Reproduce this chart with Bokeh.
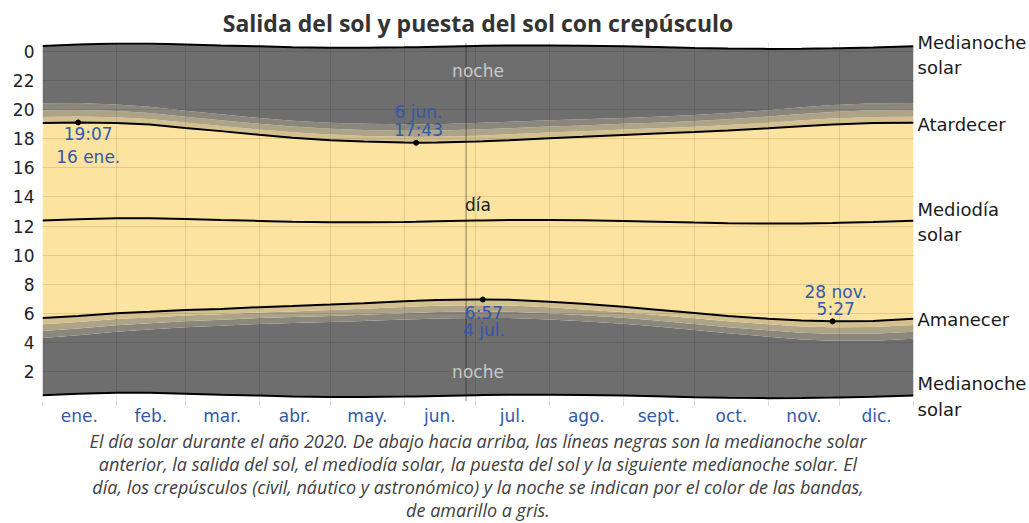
import numpy as np
from bokeh.plotting import figure
from bokeh.models import Range1d, FixedTicker, Label, Span, LinearAxis, Title
from bokeh.embed import file_html
from bokeh.resources import INLINE

# ---- data (2020) ----
days = [0, 15, 31, 45, 60, 75, 91, 105, 121, 135, 152, 157, 166, 182, 185, 196,
        213, 227, 244, 258, 274, 288, 305, 319, 332, 335, 349, 366]
sunrise = [5.67, 5.82, 6.00, 6.10, 6.22, 6.30, 6.42, 6.50, 6.60, 6.70, 6.83, 6.86, 6.92, 6.95,
           6.95, 6.93, 6.80, 6.65, 6.45, 6.25, 6.02, 5.82, 5.63, 5.50, 5.45, 5.45, 5.48, 5.62]
sunset = [19.07, 19.117, 19.08, 18.97, 18.74, 18.52, 18.27, 18.07, 17.90, 17.80, 17.73, 17.717,
          17.73, 17.80, 17.82, 17.90, 18.03, 18.13, 18.26, 18.35, 18.46, 18.57, 18.72, 18.86,
          18.98, 19.00, 19.07, 19.09]
noon = [12.37, 12.47, 12.54, 12.54, 12.48, 12.41, 12.35, 12.29, 12.25, 12.25, 12.28, 12.29,
        12.32, 12.37, 12.38, 12.41, 12.41, 12.39, 12.35, 12.30, 12.24, 12.19, 12.17, 12.18,
        12.21, 12.22, 12.27, 12.36]
midnight = [0.37, 0.47, 0.54, 0.54, 0.48, 0.41, 0.35, 0.29, 0.25, 0.25, 0.28, 0.29,
            0.32, 0.37, 0.38, 0.41, 0.41, 0.39, 0.35, 0.30, 0.24, 0.19, 0.17, 0.18,
            0.21, 0.22, 0.27, 0.36]
civil = [0.42, 0.41, 0.39, 0.38, 0.37, 0.36, 0.36, 0.37, 0.38, 0.39, 0.40, 0.40, 0.40, 0.40,
         0.40, 0.40, 0.39, 0.38, 0.37, 0.36, 0.36, 0.37, 0.38, 0.40, 0.41, 0.41, 0.42, 0.42]
nautical = [0.46, 0.45, 0.43, 0.41, 0.40, 0.39, 0.39, 0.39, 0.40, 0.41, 0.42, 0.42, 0.43, 0.43,
            0.43, 0.42, 0.41, 0.40, 0.39, 0.39, 0.39, 0.40, 0.42, 0.44, 0.45, 0.45, 0.46, 0.46]
astro = [0.48, 0.47, 0.45, 0.43, 0.41, 0.41, 0.40, 0.41, 0.42, 0.43, 0.44, 0.44, 0.44, 0.44,
         0.44, 0.44, 0.43, 0.42, 0.41, 0.40, 0.41, 0.42, 0.44, 0.46, 0.47, 0.47, 0.48, 0.48]

month_names = ["ene.", "feb.", "mar.", "abr.", "may.", "jun.", "jul.", "ago.", "sept.",
               "oct.", "nov.", "dic."]
month_starts = [0, 31, 60, 91, 121, 152, 182, 213, 244, 274, 305, 335, 366]
hour_ticks = [2, 4, 6, 8, 10, 12, 14, 16, 18, 20, 22, 24]
hour_labels = ["2", "4", "6", "8", "10", "12", "14", "16", "18", "20", "22", "0"]

right_ticks = [23.75, 18.98, 12.28, 5.57, 0.28]
right_labels = ["Medianoche\nsolar", "Atardecer", "Mediodía\nsolar", "Amanecer", "Medianoche\nsolar"]

ext_days = [15, 157, 185, 332]
ext_hours = [19.117, 17.717, 6.95, 5.45]
ext_line1 = ["19:07", "6 jun.", "6:57", "28 nov."]
ext_line2 = ["16 ene.", "17:43", "4 jul.", "5:27"]
today = 178

title_text = "Salida del sol y puesta del sol con crepúsculo"
caption = [
    "El día solar durante el año 2020. De abajo hacia arriba, las líneas negras son la medianoche solar",
    "anterior, la salida del sol, el mediodía solar, la puesta del sol y la siguiente medianoche solar. El",
    "día, los crepúsculos (civil, náutico y astronómico) y la noche se indican por el color de las bandas,",
    "de amarillo a gris.",
]

# ---- derived arrays ----
d = np.array(days, float)
sr = np.array(sunrise); ss = np.array(sunset)
c = np.array(civil); n = np.array(nautical); a = np.array(astro)
m0 = np.array(midnight); m1 = m0 + 24

DAY = "#FCE3A0"; CIV = "#D3C08E"; NAU = "#ADA386"; AST = "#8C877D"; NIGHT = "#6E6E6E"
FONT = "DejaVu Sans"
BLUE = "#3358A8"

p = figure(width=1029, height=523, output_backend="svg", toolbar_location=None,
           x_range=Range1d(0, 366), y_range=Range1d(-0.06, 24.61),
           min_border_left=42, min_border_right=109, min_border_top=42, min_border_bottom=122)
p.outline_line_color = None
p.background_fill_color = "white"
p.border_fill_color = "white"

p.title.text = title_text
p.title.align = "center"
p.title.text_font = "Open Sans"
p.title.text_font_style = "bold"
p.title.text_font_size = "23px"
p.title.text_color = "#333333"
p.title.standoff = 8

bands = [
    (m0, sr - c - n - a, NIGHT), (sr - c - n - a, sr - c - n, AST), (sr - c - n, sr - c, NAU),
    (sr - c, sr, CIV), (sr, ss, DAY), (ss, ss + c, CIV), (ss + c, ss + c + n, NAU),
    (ss + c + n, ss + c + n + a, AST), (ss + c + n + a, m1, NIGHT),
]
for y1, y2, col in bands:
    p.varea(x=d, y1=y1, y2=y2, fill_color=col)

for arr in [m0, sr, np.array(noon), ss, m1]:
    p.line(d, arr, line_color="black", line_width=2)

p.scatter(ext_days, ext_hours, size=5, color="black")

p.add_layout(Span(location=today, dimension="height", line_color="black", line_alpha=0.3,
                  line_width=1.5))

# x axis: month names centred, month boundaries as minor ticks
centers = [(month_starts[i] + month_starts[i + 1]) / 2 for i in range(12)]
p.xaxis.ticker = FixedTicker(ticks=centers, minor_ticks=month_starts)
p.xaxis.major_label_overrides = {cc: nm for cc, nm in zip(centers, month_names)}
p.xaxis.axis_line_color = None
p.xaxis.major_tick_line_color = None
p.xaxis.major_tick_out = 0
p.xaxis.major_tick_in = 0
p.xaxis.minor_tick_line_color = "#d5d5d5"
p.xaxis.minor_tick_out = 4
p.xaxis.minor_tick_in = 0
p.xaxis.major_label_standoff = 0
p.xaxis.major_label_text_font = FONT
p.xaxis.major_label_text_font_size = "17px"
p.xaxis.major_label_text_color = BLUE

p.yaxis.ticker = FixedTicker(ticks=hour_ticks)
p.yaxis.major_label_overrides = {t: l for t, l in zip(hour_ticks, hour_labels)}
p.yaxis.axis_line_color = None
p.yaxis.major_tick_line_color = None
p.yaxis.minor_tick_line_color = None
p.yaxis.major_tick_out = 0
p.yaxis.major_tick_in = 0
p.yaxis.major_label_standoff = 8
p.yaxis.major_label_text_font = FONT
p.yaxis.major_label_text_font_size = "17px"
p.yaxis.major_label_text_color = "#222222"

# right axis carrying the line names
ry = LinearAxis(ticker=FixedTicker(ticks=right_ticks),
                major_label_overrides={t: l for t, l in zip(right_ticks, right_labels)})
ry.axis_line_color = None
ry.major_tick_line_color = None
ry.minor_tick_line_color = None
ry.major_tick_out = 0
ry.major_tick_in = 0
ry.major_label_standoff = 4
ry.major_label_text_font = FONT
ry.major_label_text_font_size = "18px"
ry.major_label_text_color = "#1a1a1a"
p.add_layout(ry, "right")

p.xgrid.ticker = FixedTicker(ticks=month_starts)
p.ygrid.ticker = FixedTicker(ticks=hour_ticks)
for g in (p.xgrid, p.ygrid):
    g.grid_line_color = "black"
    g.grid_line_alpha = 0.1
    g.level = "guide"

def lab(x, y, text, color="#222222", size="17px"):
    p.add_layout(Label(x=x, y=y, text=text, text_color=color, text_font_size=size,
                       text_align="center", text_baseline="middle", text_font=FONT))

lab(183, 22.62, "noche", color="#C9C9C9")
lab(183, 2.0, "noche", color="#C9C9C9")
lab(183, 13.41, "día", color="#1a1a1a")

ann_pos = [(19.2, 18.29, 16.77), (158.0, 19.82, 18.61), (185.5, 6.05, 4.82), (333.3, 7.45, 6.31)]
for (x, y1, y2), t1, t2 in zip(ann_pos, ext_line1, ext_line2):
    lab(x, y1, t1, color=BLUE)
    lab(x, y2, t2, color=BLUE)

for i, line in enumerate(caption):
    p.add_layout(Title(text=line, align="center", text_font="Open Sans",
                       text_font_style="italic", text_font_size="18px", text_color="#404040",
                       text_line_height=1.0, standoff=-3, offset=0), "below")

open("out.html", "w").write(file_html(p, INLINE))
